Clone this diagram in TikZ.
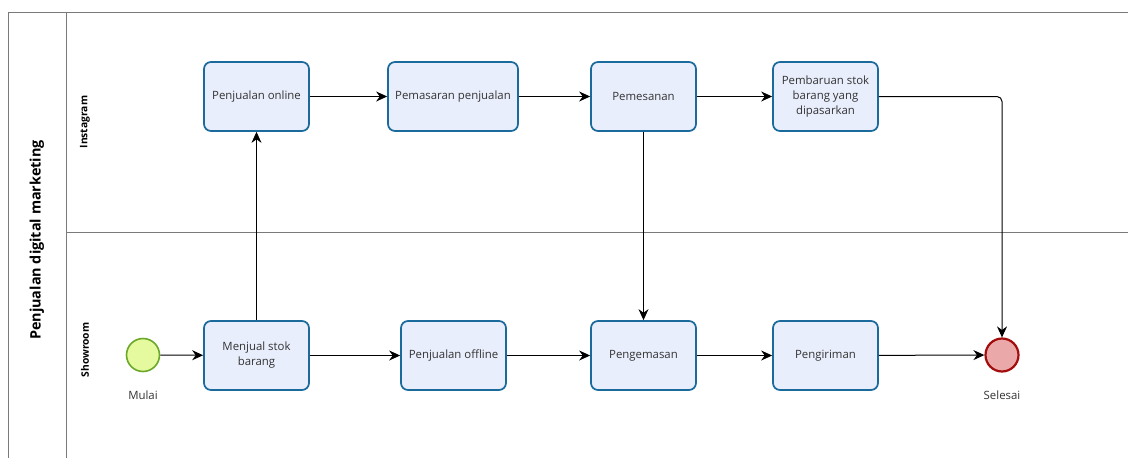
\documentclass[tikz,border=0pt]{standalone}
\usepackage{fontspec}
\setmainfont{Open Sans}
\usetikzlibrary{arrows.meta}
\definecolor{taskfill}{HTML}{E9EEFC}
\definecolor{taskline}{HTML}{1B6A9C}
\definecolor{startfill}{HTML}{E5FA9E}
\definecolor{startline}{HTML}{6BA82A}
\definecolor{endfill}{HTML}{EBA8A8}
\definecolor{endline}{HTML}{A30D0D}
\definecolor{lanegray}{HTML}{7A7A7A}
\definecolor{txt}{HTML}{333333}
\tikzset{
  task/.style={draw=taskline, fill=taskfill, line width=1.7pt, rounded corners=7pt,
    minimum width=105pt, minimum height=69pt, inner sep=2pt, align=center,
    font=\fontsize{11.4}{15}\selectfont, text=txt},
  startev/.style={circle, draw=startline, fill=startfill, line width=1.6pt, minimum size=33pt, inner sep=0pt},
  endev/.style={circle, draw=endline, fill=endfill, line width=2.2pt, minimum size=33pt, inner sep=0pt},
  evlabel/.style={font=\fontsize{11.4}{13}\selectfont, text=txt},
  flow/.style={line width=1pt, -{Stealth[length=11pt,width=10pt]}},
  lanelabel/.style={rotate=90, font=\bfseries\fontsize{10.3}{12}\selectfont},
}
\begin{document}
\begin{tikzpicture}[x=1pt,y=-1pt]
\useasboundingbox (0,0) rectangle (1128,458);
% pool and lanes
\draw[lanegray, line width=0.8pt] (8,470) -- (8,12) -- (1140,12);
\draw[lanegray, line width=0.8pt] (66,12) -- (66,470);
\draw[lanegray, line width=0.8pt] (66,232) -- (1140,232);
\node[rotate=90, font=\bfseries\fontsize{14.4}{16}\selectfont] (pool) at (37,240) {Penjualan digital marketing};
\node[lanelabel] (laneig) at (85,122) {Instagram};
\node[lanelabel] (lanesr) at (85,350) {Showroom};
% events
\node[startev] (mulai) at (143,355) {};
\node[evlabel] (lmulai) at (143,395) {Mulai};
\node[endev] (selesai) at (1002,355) {};
\node[evlabel] (lselesai) at (1002,395) {Selesai};
% tasks
\node[task] (online) at (256.5,96.5) {Penjualan online};
\node[task, minimum width=130pt] (pemasaran) at (453,96.5) {Pemasaran penjualan};
\node[task] (pemesanan) at (643.5,96.5) {Pemesanan};
\node[task] (pembaruan) at (825.5,96.5) {Pembaruan stok\\barang yang\\dipasarkan};
\node[task] (menjual) at (256.5,355.5) {Menjual stok\\barang};
\node[task] (offline) at (453.5,355.5) {Penjualan offline};
\node[task] (pengemasan) at (643.5,355.5) {Pengemasan};
\node[task] (pengiriman) at (825.5,355.5) {Pengiriman};
% sequence flows
\draw[flow] (mulai) -- (menjual);
\draw[flow] (menjual) -- (offline);
\draw[flow] (offline) -- (pengemasan);
\draw[flow] (pengemasan) -- (pengiriman);
\draw[flow] (pengiriman) -- (selesai);
\draw[flow] (menjual) -- (online);
\draw[flow] (online) -- (pemasaran);
\draw[flow] (pemasaran) -- (pemesanan);
\draw[flow] (pemesanan) -- (pembaruan);
\draw[flow] (pemesanan) -- (pengemasan);
\draw[flow, rounded corners=5pt] (pembaruan.east) -| (selesai.north);
\end{tikzpicture}
\end{document}
